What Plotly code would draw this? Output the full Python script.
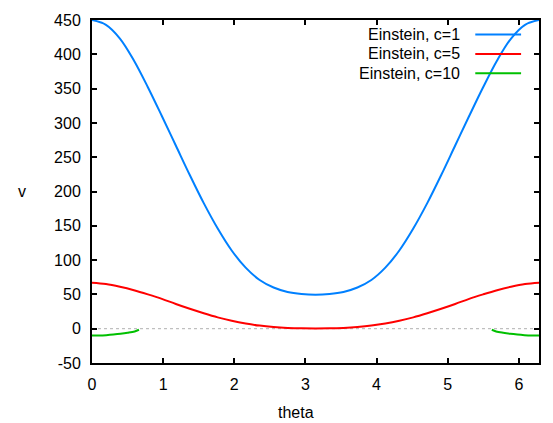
import math
import plotly.graph_objects as go

# theta sample positions (k*pi/16, k=0..32)
theta = [k * math.pi / 16 for k in range(33)]

# Einstein, c=1
v_c1 = [450, 443, 423, 391, 352, 310, 267, 224, 183, 146, 114, 89, 71, 60, 53.5, 50.5, 49.5,
        50.5, 53.5, 60, 71, 89, 114, 146, 183, 224, 267, 310, 352, 391, 423, 443, 450]

# Einstein, c=5
v_c5 = [67, 65, 61, 56, 50, 43.5, 36, 29, 22.5, 16.5, 11.5, 7.5, 4.5, 2.5, 1.2, 0.5, 0.3,
        0.5, 1.2, 2.5, 4.5, 7.5, 11.5, 16.5, 22.5, 29, 36, 43.5, 50, 56, 61, 65, 67]

# Einstein, c=10 (two branches)
theta_c10_a = [0, 0.1, 0.2, 0.3, 0.4, 0.5, 0.6, 0.66]
v_c10_a = [-10, -9.9, -9.4, -8.6, -7.5, -6, -4, -1.5]
theta_c10_b = [5.62, 5.68, 5.78, 5.88, 5.98, 6.08, 6.18, 2 * math.pi]
v_c10_b = [-1.5, -4, -6, -7.5, -8.6, -9.4, -9.9, -10]

series_names = ["Einstein, c=1", "Einstein, c=5", "Einstein, c=10"]
colors = ["#0080ff", "#ff0000", "#00c000"]

x_ticks = [0, 1, 2, 3, 4, 5, 6]
y_ticks = [-50, 0, 50, 100, 150, 200, 250, 300, 350, 400, 450]

FONT = "Liberation Sans, Arial, sans-serif"
FS = 16

fig = go.Figure()
fig.add_trace(go.Scatter(x=theta, y=v_c1, mode="lines", line=dict(color=colors[0], width=2, shape="spline"),
                         name=series_names[0], showlegend=False))
fig.add_trace(go.Scatter(x=theta, y=v_c5, mode="lines", line=dict(color=colors[1], width=2, shape="spline"),
                         name=series_names[1], showlegend=False))
fig.add_trace(go.Scatter(x=theta_c10_a, y=v_c10_a, mode="lines", line=dict(color=colors[2], width=2, shape="spline"),
                         name=series_names[2], showlegend=False))
fig.add_trace(go.Scatter(x=theta_c10_b, y=v_c10_b, mode="lines", line=dict(color=colors[2], width=2, shape="spline"),
                         name=series_names[2], showlegend=False))

W, H = 553, 423
ml, mr, mt, mb = 92, 12, 17, 60
pw, ph = W - ml - mr, H - mt - mb

def px_to_paper(x, y):
    return (x - ml) / pw, 1 - (y - mt) / ph

shapes = [
    dict(type="line", xref="paper", yref="y", x0=0, x1=1, y0=0, y1=0,
         line=dict(color="#b0b0b0", width=1, dash="dot"), layer="below"),
]
annotations = []
rows_y = [31.7, 51.2, 70.8]
for name, col, ry in zip(series_names, colors, rows_y):
    tx, ty = px_to_paper(464, ry)
    annotations.append(dict(x=tx, y=ty, xref="paper", yref="paper", text=name, showarrow=False,
                            xanchor="right", yanchor="middle", font=dict(family=FONT, size=FS, color="#000")))
    x0, y0 = px_to_paper(477, ry)
    x1, _ = px_to_paper(523, ry)
    shapes.append(dict(type="line", xref="paper", yref="paper", x0=x0, x1=x1, y0=y0, y1=y0,
                       line=dict(color=col, width=2)))

ax, ay = px_to_paper(297, 413)
annotations.append(dict(x=ax, y=ay, xref="paper", yref="paper", text="theta", showarrow=False,
                        xanchor="center", yanchor="middle", font=dict(family=FONT, size=FS, color="#000")))
vx, vy = px_to_paper(22, 190)
annotations.append(dict(x=vx, y=vy, xref="paper", yref="paper", text="v", showarrow=False,
                        xanchor="center", yanchor="middle", font=dict(family=FONT, size=FS, color="#000")))

fig.update_layout(
    width=W, height=H,
    margin=dict(l=ml, r=mr, t=mt, b=mb),
    paper_bgcolor="white", plot_bgcolor="white",
    font=dict(family=FONT, size=FS, color="#000"),
    shapes=shapes, annotations=annotations,
    showlegend=False,
)
fig.update_xaxes(range=[0, 2 * math.pi], tickvals=x_ticks, ticktext=[str(t) for t in x_ticks],
                 showgrid=False, zeroline=False, showline=True, linecolor="black", linewidth=2,
                 mirror="ticks", ticks="inside", ticklen=5, tickwidth=1.5, tickcolor="black",
                 ticklabelstandoff=6,
                 tickfont=dict(family=FONT, size=FS, color="#000"))
fig.update_yaxes(range=[-50, 450], tickvals=y_ticks, ticktext=[str(t) for t in y_ticks],
                 showgrid=False, zeroline=False, showline=True, linecolor="black", linewidth=2,
                 mirror="ticks", ticks="inside", ticklen=5, tickwidth=1.5, tickcolor="black",
                 ticklabelstandoff=6,
                 tickfont=dict(family=FONT, size=FS, color="#000"))

fig.write_html("out.html")
